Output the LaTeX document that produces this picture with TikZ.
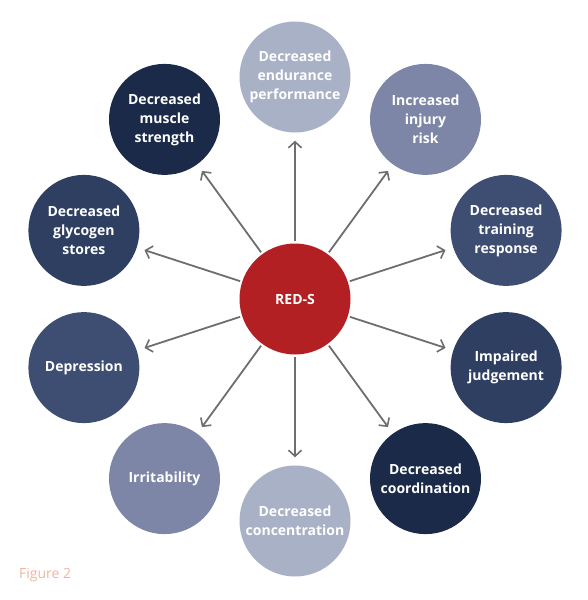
\documentclass[tikz,border=0pt]{standalone}
\usepackage{fontspec}
\setmainfont{Open Sans}
\usetikzlibrary{arrows.meta}
\definecolor{clight}{HTML}{A9B1C7}
\definecolor{cmed}{HTML}{7D86A7}
\definecolor{cdarkA}{HTML}{3E4E72}
\definecolor{cdarkB}{HTML}{2E3F62}
\definecolor{cdarkest}{HTML}{1B2A48}
\definecolor{cred}{HTML}{B22024}
\definecolor{cline}{HTML}{6E6E6E}
\definecolor{cfig}{HTML}{F0B49C}
\tikzset{
  bubble/.style={circle, minimum size=111pt, inner sep=0pt, text=white, align=center,
    font=\fontsize{14}{19}\selectfont\bfseries},
  arr/.style={draw=cline, line width=1.8pt, -{Straight Barb[length=6pt,width=13pt,line width=1.6pt]},
    shorten >=8pt, shorten <=2pt}
}
\begin{document}
\begin{tikzpicture}[x=1pt,y=-1pt]
\useasboundingbox (0,0) rectangle (587,600);
\node[bubble, fill=cred] (c) at (295,299) {RED-S};
\node[bubble, fill=clight] (n0) at (295,77) {Decreased\\endurance\\performance};
\node[bubble, fill=cmed] (n1) at (425.5,119.4) {Increased\\injury\\risk};
\node[bubble, fill=cdarkA] (n2) at (506.1,230.4) {Decreased\\training\\response};
\node[bubble, fill=cdarkB] (n3) at (506.1,367.6) {Impaired\\judgement};
\node[bubble, fill=cdarkest] (n4) at (425.5,478.6) {Decreased\\coordination};
\node[bubble, fill=clight] (n5) at (295,521) {Decreased\\concentration};
\node[bubble, fill=cmed] (n6) at (164.5,478.6) {Irritability};
\node[bubble, fill=cdarkA] (n7) at (83.9,367.6) {Depression};
\node[bubble, fill=cdarkB] (n8) at (83.9,230.4) {Decreased\\glycogen\\stores};
\node[bubble, fill=cdarkest] (n9) at (164.5,119.4) {Decreased\\muscle\\strength};
\foreach \i in {0,...,9} { \draw[arr] (c) -- (n\i); }
\node[anchor=west, text=cfig, font=\fontsize{14}{16}\selectfont, inner sep=0pt] (fig) at (19,575) {Figure 2};
\end{tikzpicture}
\end{document}
